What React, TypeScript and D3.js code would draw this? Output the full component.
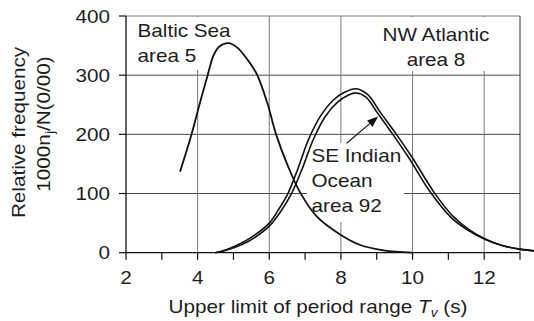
import React from "react";
import * as d3 from "d3";

// Upper limit of period range T_v (s) vs relative frequency 1000 n_j / N (0/00)
const balticX = [3.51, 3.83, 4.05, 4.28, 4.44, 4.6, 4.86, 5.1, 5.37, 5.65, 5.95, 6.19, 6.53, 6.86, 7.33, 8.0, 8.54, 9.19, 10.0];
const balticY = [137, 200, 250, 300, 333, 348, 354, 347, 328, 302, 252, 200, 145, 102, 61, 30, 13, 4, 0];

const atlanticX = [4.49, 4.8, 5.28, 5.6, 6.0, 6.25, 6.52, 6.8, 7.1, 7.45, 7.79, 8.1, 8.42, 8.75, 9.09, 9.55, 10.0, 10.6, 11.14, 11.6, 12.0, 12.5, 13.0, 13.4];
const atlanticY = [0, 5, 18, 30, 50, 72, 100, 142, 192, 233, 258, 271, 277, 267, 238, 200, 160, 102, 61, 38, 24, 12, 6, 3];

const indianX = [4.49, 4.8, 5.28, 5.6, 6.0, 6.3, 6.62, 6.92, 7.22, 7.55, 7.9, 8.2, 8.42, 8.7, 9.0, 9.45, 9.9, 10.5, 11.1, 11.6, 12.0, 12.5, 13.0, 13.4];
const indianY = [0, 4, 15, 26, 45, 68, 100, 142, 190, 229, 254, 266, 270, 263, 238, 200, 160, 102, 58, 36, 23, 12, 6, 3];

const xTicks = [2, 3, 4, 5, 6, 7, 8, 9, 10, 11, 12, 13];
const xTickLabels = [2, 4, 6, 8, 10, 12];
const yTicks = [0, 100, 200, 300, 400];
const xGrid = [4, 6, 8, 10, 12];
const yGrid = [100, 200, 300];

// arrow from the "SE Indian Ocean" label to its curve, in data units
const arrowFrom = [8.16, 185];
const arrowTo = [9.04, 230];

const FONT = "'Liberation Sans', Arial, Helvetica, sans-serif";
const SX = 1.15;

function Label({ x, y, anchor = "start", rotate = 0, children }: any) {
  return (
    <text
      transform={`translate(${x},${y}) rotate(${rotate}) scale(${SX},1)`}
      textAnchor={anchor}
      fontFamily={FONT}
      fontSize={18}
      fill="#1e1e1e"
    >
      {children}
    </text>
  );
}

export default function App() {
  const W = 534;
  const H = 321;
  const x = d3.scaleLinear().domain([2, 13]).range([126, 520]);
  const y = d3.scaleLinear().domain([0, 400]).range([252.7, 16]);
  const [x0, x1] = x.range();
  const [yb, yt] = y.range();

  const line = d3
    .line<[number, number]>()
    .x((d) => x(d[0]))
    .y((d) => Math.min(yb, y(d[1])))
    .curve(d3.curveCatmullRom.alpha(0.5));

  const zip = (a: number[], b: number[]) => a.map((v, i) => [v, b[i]] as [number, number]);

  const ax1 = x(arrowFrom[0]);
  const ay1 = y(arrowFrom[1]);
  const ax2 = x(arrowTo[0]);
  const ay2 = y(arrowTo[1]);
  const ang = Math.atan2(ay2 - ay1, ax2 - ax1);
  const hl = 11;
  const hw = 4.2;
  const bx = ax2 - hl * Math.cos(ang);
  const by = ay2 - hl * Math.sin(ang);
  const head = [
    [ax2, ay2],
    [bx + hw * Math.sin(ang), by - hw * Math.cos(ang)],
    [bx - hw * Math.sin(ang), by + hw * Math.cos(ang)],
  ]
    .map((p) => p.join(","))
    .join(" ");

  return (
    <svg
      width={W}
      height={H}
      viewBox={`0 0 ${W} ${H}`}
      style={{ position: "absolute", left: 0, top: 0, background: "#fff" }}
    >
      <rect x={0} y={0} width={W} height={H} fill="#fff" />

      {/* grid */}
      {yGrid.map((v) => (
        <line key={"hy" + v} x1={x0} x2={x1} y1={y(v)} y2={y(v)} stroke="#4a4a4a" strokeWidth={1} />
      ))}
      {xGrid.map((v) => (
        <line key={"vx" + v} x1={x(v)} x2={x(v)} y1={yt} y2={yb} stroke="#7a7a7a" strokeWidth={1} />
      ))}
      {/* frame */}
      <line x1={x0} x2={x1} y1={yt} y2={yt} stroke="#7a7a7a" strokeWidth={1} />
      <line x1={x1} x2={x1} y1={yt} y2={yb} stroke="#333" strokeWidth={1} />

      {/* label backgrounds */}
      <rect x={x0 + 1} y={yt + 1} width={110} height={53} fill="#fff" />
      <rect x={372} y={yt + 1} width={128} height={54} fill="#fff" />
      <rect x={307} y={143} width={97} height={79} fill="#fff" />

      {/* axes */}
      <line x1={x0} x2={x0} y1={yt} y2={yb} stroke="#111" strokeWidth={1.3} />
      <line x1={x0} x2={x1} y1={yb} y2={yb} stroke="#111" strokeWidth={1.3} />
      {xTicks.map((v) => (
        <line key={"xt" + v} x1={x(v)} x2={x(v)} y1={yb} y2={yb + 7} stroke="#111" strokeWidth={1.2} />
      ))}
      {yTicks.map((v) => (
        <line key={"yt" + v} x1={x0 - 7} x2={x0} y1={y(v)} y2={y(v)} stroke="#111" strokeWidth={1.2} />
      ))}
      {xTickLabels.map((v) => (
        <Label key={"xl" + v} x={x(v)} y={284} anchor="middle">
          {v}
        </Label>
      ))}
      {yTicks.map((v) => (
        <Label key={"yl" + v} x={110} y={y(v) + 6.5} anchor="end">
          {v}
        </Label>
      ))}

      {/* curves */}
      <path d={line(zip(balticX, balticY)) || ""} fill="none" stroke="#111" strokeWidth={1.8} />
      <path d={line(zip(atlanticX, atlanticY)) || ""} fill="none" stroke="#111" strokeWidth={1.6} />
      <path d={line(zip(indianX, indianY)) || ""} fill="none" stroke="#111" strokeWidth={1.6} />

      {/* arrow */}
      <line x1={ax1} y1={ay1} x2={bx} y2={by} stroke="#111" strokeWidth={1.1} />
      <polygon points={head} fill="#111" />

      {/* annotations */}
      <Label x={137.5} y={36.5}>Baltic Sea</Label>
      <Label x={137.5} y={61.5}>area 5</Label>
      <Label x={436} y={41} anchor="middle">NW Atlantic</Label>
      <Label x={436} y={66} anchor="middle">area 8</Label>
      <Label x={311.5} y={161.5}>SE Indian</Label>
      <Label x={311.5} y={186.5}>Ocean</Label>
      <Label x={311.5} y={211.5}>area 92</Label>

      {/* axis titles */}
      <Label x={25} y={132.5} rotate={-90} anchor="middle">Relative frequency</Label>
      <Label x={50} y={124} rotate={-90} anchor="middle">
        1000n<tspan fontSize={12} dy={4}>j</tspan>
        <tspan dy={-4}>/N(0/00)</tspan>
      </Label>
      <Label x={318} y={313} anchor="middle">
        Upper limit of period range <tspan fontStyle="italic">T</tspan>
        <tspan fontStyle="italic" fontSize={12} dy={4}>v</tspan>
        <tspan dy={-4}> (s)</tspan>
      </Label>
    </svg>
  );
}
